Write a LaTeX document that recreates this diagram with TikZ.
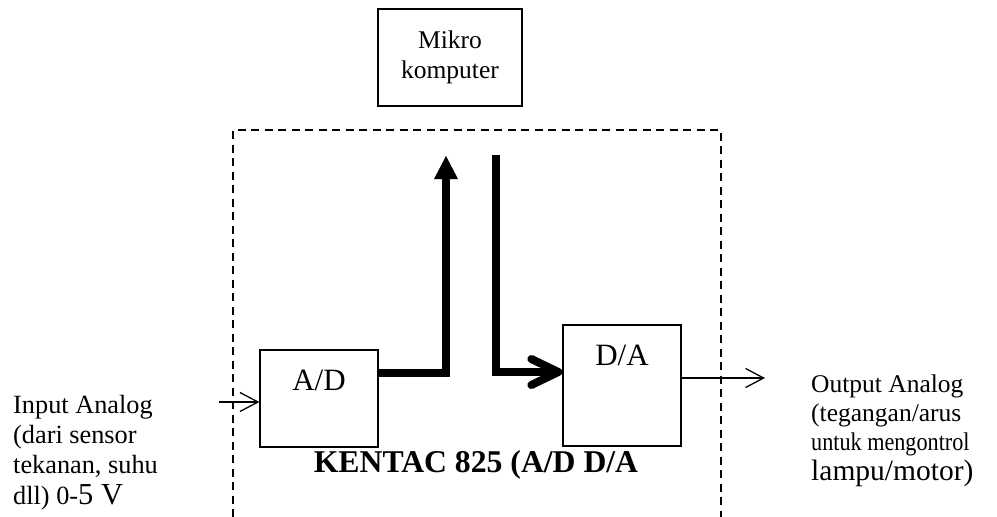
\documentclass[tikz,border=0pt]{standalone}
\usepackage{fontspec}
\usepackage{graphicx}
\setmainfont{Liberation Serif}
\usetikzlibrary{arrows.meta,calc}
\begin{document}
\begin{tikzpicture}[x=1pt,y=-1pt,
  blk/.style={draw,line width=1.3pt,inner sep=0pt},
  txt/.style={font=\fontsize{25.5}{30.3}\selectfont},
  lbl/.style={font=\fontsize{31}{34}\selectfont,anchor=base,inner sep=0pt},
  thinarrow/.style={line width=1.3pt,-{Straight Barb[length=18pt,width=19pt]}},
  bus/.style={line width=8pt},
  frame/.style={line width=1.3pt,dash pattern=on 8pt off 5.5pt}
]
\useasboundingbox (0,0) rectangle (997,517);
% blocks
\node[blk,txt,minimum width=144pt,minimum height=97pt,align=center] (mk) at (450,57.5) {Mikro\\komputer};
\node[blk,minimum width=118pt,minimum height=97pt] (ad) at (319,398.5) {};
\node[blk,minimum width=118pt,minimum height=121pt] (da) at (622,385.5) {};
\node[lbl] (adl) at ($(ad.north)+(0,41)$) {A/D};
\node[lbl] (dal) at ($(da.north)+(0,41)$) {D/A};
% dashed frame
\coordinate (f1) at (233,517);
\coordinate (f2) at (233,130);
\coordinate (f3) at (721,130);
\coordinate (f4) at (721,517);
\draw[frame] (f1) -- (f2) -- (f3) -- (f4);
\node[font=\fontsize{31.7}{36}\selectfont\bfseries,anchor=base,inner sep=0pt] (kt) at (476,472) {KENTAC 825 (A/D D/A};
% buses
\coordinate (upTip) at (446,156);
\draw[bus,-{Triangle[length=23pt,width=24pt,line width=0pt]}] (ad.east |- 0,373) -- (446,373) -- (upTip);
\coordinate (dnTop) at (496,155);
\draw[bus,-{Straight Barb[length=27pt,width=26pt,round]}] (dnTop) -- (496,372) -- (da.west |- 0,372);
% analog in/out
\coordinate (inS) at (219,402);
\draw[thinarrow] (inS) -- (ad.west |- 0,402);
\coordinate (outE) at (765,378);
\draw[thinarrow] (da.east |- 0,378) -- (outE);
% side texts
\node[font=\fontsize{26.3}{30.3}\selectfont,anchor=north west,inner sep=0pt,align=left] (intxt) at (13,391.8)
  {\strut Input Analog\\(dari sensor\\tekanan, suhu\\dll) 0-{\fontsize{30.5}{30.3}\selectfont 5 V}};
\node[font=\fontsize{25.5}{29.3}\selectfont,anchor=north west,inner sep=0pt,align=left] (outtxt) at (811,371.5)
  {\strut Output Analog\\(tegangan/arus\\\scalebox{0.87}[1]{untuk mengontrol}\\{\fontsize{29.5}{29.3}\selectfont lampu/motor)}};
\end{tikzpicture}
\end{document}
